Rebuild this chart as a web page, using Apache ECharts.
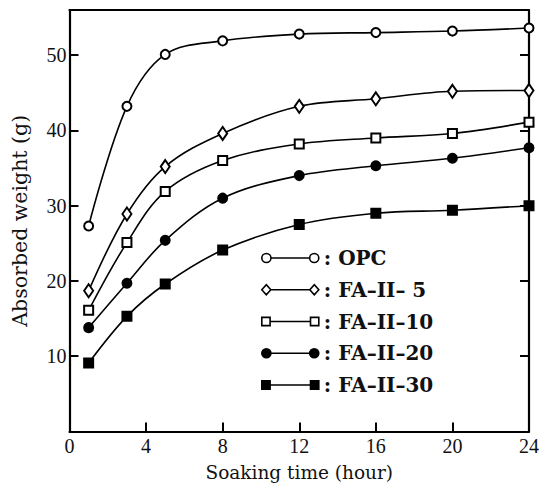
<!DOCTYPE html>
<html>
<head>
<meta charset="utf-8">
<script src="https://cdn.jsdelivr.net/npm/echarts@6/dist/echarts.min.js"></script>
<style>html,body{margin:0;padding:0;background:#fff}#c{width:546px;height:489px}</style>
</head>
<body>
<div id="c"></div>
<script>
const hours = [1, 3, 5, 8, 12, 16, 20, 24];
const seriesNames = ['OPC', 'FA\u2013II\u2013 5', 'FA\u2013II\u201310', 'FA\u2013II\u201320', 'FA\u2013II\u201330'];
const opc  = [27.3, 43.2, 50.1, 51.9, 52.8, 53.0, 53.2, 53.6];
const fa5  = [18.7, 28.9, 35.2, 39.6, 43.2, 44.2, 45.2, 45.3];
const fa10 = [16.1, 25.1, 31.9, 36.0, 38.2, 39.0, 39.6, 41.1];
const fa20 = [13.8, 19.7, 25.4, 31.0, 34.0, 35.3, 36.3, 37.7];
const fa30 = [9.1, 15.3, 19.6, 24.1, 27.5, 29.0, 29.4, 30.0];
const xTicks = [0, 4, 8, 12, 16, 20, 24];
const yTicks = [10, 20, 30, 40, 50];

const TICKFONT = 'Liberation Serif';
const NAMEFONT = 'DejaVu Serif';
const symbols = ['emptyCircle', 'emptyDiamond', 'emptyRect', 'circle', 'rect'];
const symbolSizes = [9, [9, 13], 9, 9, 9];
const values = [opc, fa5, fa10, fa20, fa30];

const circ = 'M0.5,5 a4.5,4.5 0 1,0 9,0 a4.5,4.5 0 1,0 -9,0 Z M9.5,5 L47.5,5 M47.5,5 a4.5,4.5 0 1,0 9,0 a4.5,4.5 0 1,0 -9,0 Z';
const diam = 'M0,5 L4.5,0 L9,5 L4.5,10 Z M9,5 L48,5 M48,5 L52.5,0 L57,5 L52.5,10 Z';
const sq   = 'M1,1 L9,1 L9,9 L1,9 Z M9,5 L48,5 M48,1 L56,1 L56,9 L48,9 Z';
const icons = [circ, diam, sq, circ, sq];
const fills = ['#fff', '#fff', '#fff', '#000', '#000'];

const series = values.map((v, i) => ({
  name: seriesNames[i],
  type: 'line',
  smooth: 0.35,
  data: hours.map((h, j) => [h, v[j]]),
  symbol: symbols[i],
  symbolSize: symbolSizes[i],
  showSymbol: true,
  lineStyle: {color: '#000', width: 1.6},
  itemStyle: {color: '#000', borderColor: '#000', borderWidth: 2},
  emphasis: {disabled: true},
  z: 3
}));

const chart = echarts.init(document.getElementById('c'), null, {renderer: 'svg'});
chart.setOption({
  animation: false,
  backgroundColor: '#fff',
  grid: {left: 69.5, right: 17, top: 10, bottom: 57.5, containLabel: false},
  legend: {
    orient: 'vertical',
    left: 256,
    top: 242,
    itemWidth: 57,
    itemHeight: 10,
    itemGap: 9.75,
    selectedMode: false,
    textStyle: {fontFamily: NAMEFONT, fontSize: 20, fontWeight: 'bold', color: '#111', lineHeight: 22},
    data: seriesNames.map((n, i) => ({
      name: n,
      icon: 'path://' + icons[i],
      itemStyle: {color: fills[i], borderColor: '#000', borderWidth: 1.6}
    })),
    formatter: n => ': ' + n
  },
  xAxis: [{
    type: 'value', min: 0, max: 24, interval: 4,
    name: 'Soaking time (hour)', nameLocation: 'middle', nameGap: 31,
    nameTextStyle: {fontFamily: NAMEFONT, fontSize: 18.5, color: '#111'},
    axisLine: {show: true, lineStyle: {color: '#000', width: 2.2}},
    axisTick: {show: true, inside: true, length: 9, lineStyle: {color: '#000', width: 2}},
    axisLabel: {fontFamily: TICKFONT, fontSize: 20, color: '#111', margin: 4,
      formatter: v => xTicks.includes(v) ? String(v) : ''},
    splitLine: {show: false}
  }, {
    type: 'value', position: 'top', min: 0, max: 24,
    axisLine: {show: true, onZero: false, lineStyle: {color: '#000', width: 2.2}},
    axisTick: {show: false}, axisLabel: {show: false}, splitLine: {show: false}
  }],
  yAxis: [{
    type: 'value', min: 0, max: 56, interval: 10,
    name: 'Absorbed weight (g)', nameLocation: 'middle', nameGap: 39,
    nameTextStyle: {fontFamily: NAMEFONT, fontSize: 20.5, color: '#111'},
    axisLine: {show: true, onZero: false, lineStyle: {color: '#000', width: 2.2}},
    axisTick: {show: true, inside: true, length: 9, lineStyle: {color: '#000', width: 2}},
    axisLabel: {fontFamily: TICKFONT, fontSize: 20, color: '#111', margin: 3,
      formatter: v => yTicks.includes(v) ? String(v) : ''},
    splitLine: {show: false}
  }, {
    type: 'value', position: 'right', min: 0, max: 56, interval: 10,
    axisLine: {show: true, onZero: false, lineStyle: {color: '#000', width: 2.2}},
    axisTick: {show: true, inside: true, length: 9, lineStyle: {color: '#000', width: 2}},
    axisLabel: {show: false}, splitLine: {show: false}
  }],
  series: series
});
</script>
</body>
</html>
